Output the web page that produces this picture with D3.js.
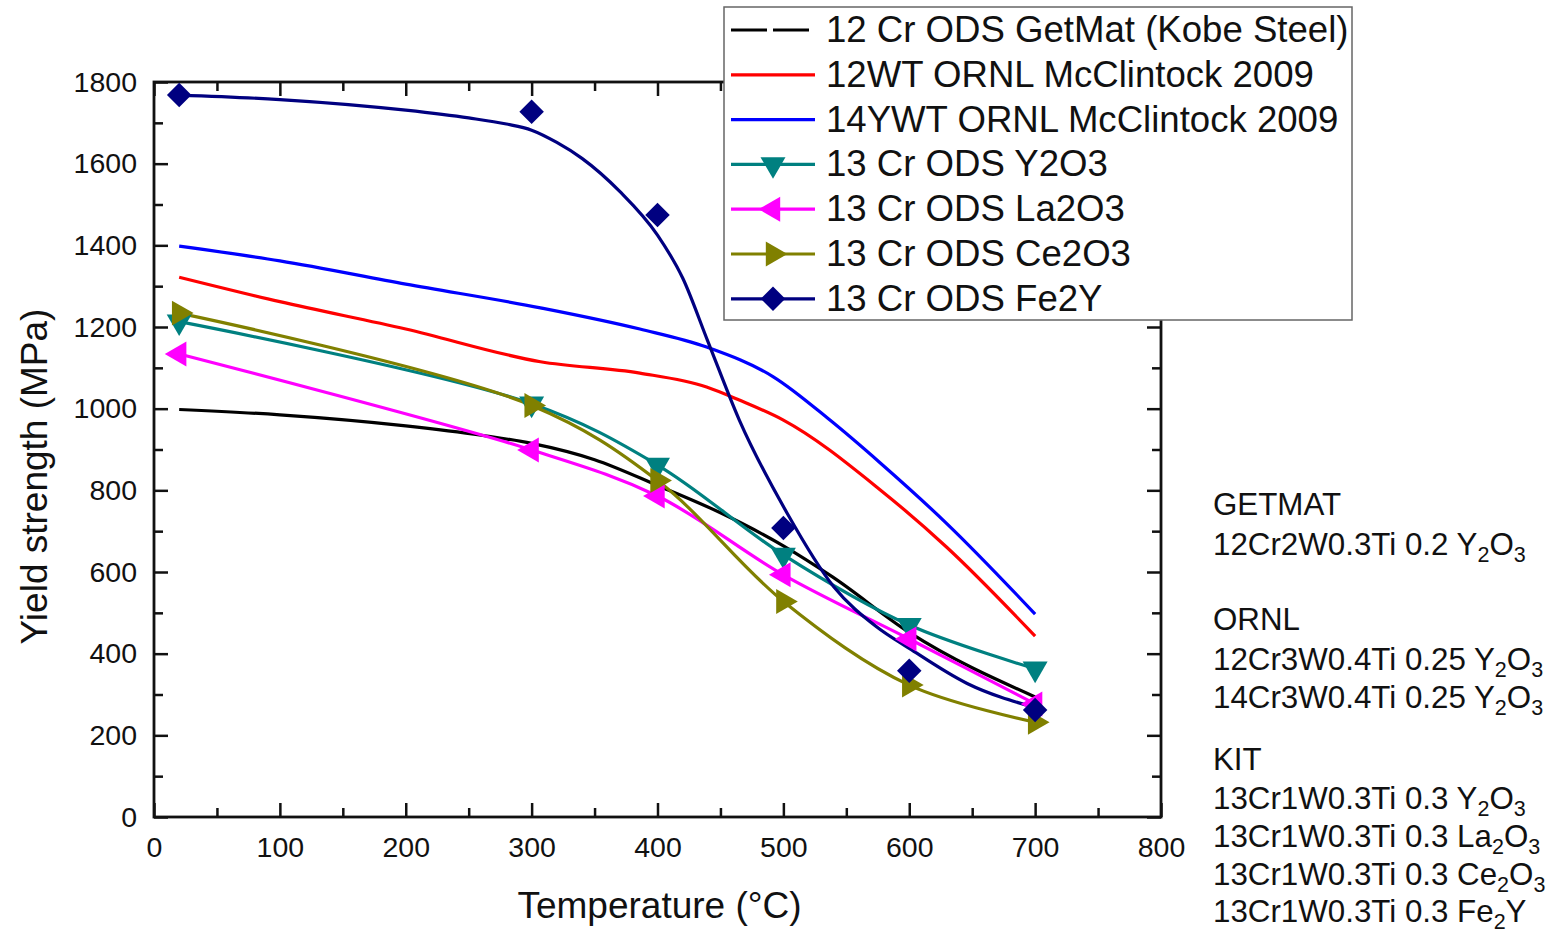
<!DOCTYPE html>
<html>
<head>
<meta charset="utf-8">
<script src="https://cdn.jsdelivr.net/npm/d3@7"></script>
<style>
  html, body { margin: 0; padding: 0; background: #fff; }
  svg { display: block; font-family: "Liberation Sans", Arial, Helvetica, sans-serif; }
</style>
</head>
<body>
<svg id="chart" width="1556" height="933"></svg>
<script>
// ---------------- data ----------------
const xTicks = [0, 100, 200, 300, 400, 500, 600, 700, 800];
const yTicks = [0, 200, 400, 600, 800, 1000, 1200, 1400, 1600, 1800];
const temps = [20, 300, 400, 500, 600, 700];

// fitted curves (no markers)
const getmatCurve = [[20, 998], [100, 985], [200, 958], [260, 935], [300, 915], [350, 875], [400, 812], [450, 745], [500, 664], [539, 588], [600, 452], [700, 294]];
const ornl12Curve = [[20, 1322], [100, 1262], [200, 1195], [307, 1115], [386, 1087], [439, 1053], [465, 1021], [500, 972], [577, 801], [630, 660], [700, 443]];
const ornl14Curve = [[20, 1398], [100, 1362], [200, 1305], [307, 1247], [386, 1195], [439, 1151], [492, 1078], [537, 972], [577, 867], [630, 718], [700, 497]];

// measured series with markers
const y2o3 = [1213, 1012, 862, 642, 470, 363];
const la2o3 = [1134, 899, 786, 593, 436, 277];
const ce2o3 = [1234, 1008, 824, 528, 323, 232];
const fe2y = [1768, 1727, 1474, 708, 358, 262];
const fe2yCurve = [[20, 1768], [100, 1757], [200, 1731], [250, 1712], [280, 1697], [300, 1682], [320, 1652], [340, 1613], [370, 1532], [400, 1425], [420, 1320], [440, 1165], [465, 972], [503, 744], [540, 564], [574, 466], [600, 413], [646, 327], [700, 268]];

const legendLabels = [
  "12 Cr ODS GetMat (Kobe Steel)",
  "12WT ORNL McClintock 2009",
  "14YWT ORNL McClintock 2009",
  "13 Cr ODS Y2O3",
  "13 Cr ODS La2O3",
  "13 Cr ODS Ce2O3",
  "13 Cr ODS Fe2Y"
];
const seriesColors = ["#000000", "#ff0000", "#0000ff", "#008080", "#ff00ff", "#808000", "#000080"];
const seriesMarkers = [null, null, null, "down", "left", "right", "diamond"];

// right-hand annotation: [text parts], part = [string, isSubscript]
const noteLines = [
  [["GETMAT", 0]],
  [["12Cr2W0.3Ti 0.2 Y", 0], ["2", 1], ["O", 0], ["3", 1]],
  null,
  [["ORNL", 0]],
  [["12Cr3W0.4Ti 0.25 Y", 0], ["2", 1], ["O", 0], ["3", 1]],
  [["14Cr3W0.4Ti 0.25 Y", 0], ["2", 1], ["O", 0], ["3", 1]],
  null,
  [["KIT", 0]],
  [["13Cr1W0.3Ti 0.3 Y", 0], ["2", 1], ["O", 0], ["3", 1]],
  [["13Cr1W0.3Ti 0.3 La", 0], ["2", 1], ["O", 0], ["3", 1]],
  [["13Cr1W0.3Ti 0.3 Ce", 0], ["2", 1], ["O", 0], ["3", 1]],
  [["13Cr1W0.3Ti 0.3 Fe", 0], ["2", 1], ["Y", 0]]
];

// ---------------- layout ----------------
const svg = d3.select("#chart");
const X0 = 154, X1 = 1161, Y0 = 817, Y1 = 82;
const x = d3.scaleLinear().domain([0, 800]).range([X0, X1]);
const y = d3.scaleLinear().domain([0, 1800]).range([Y0, Y1]);

const axisColor = "#111";
const tickFont = 28.5;

const xMinor = d3.range(50, 800, 100);
const yMinor = d3.range(100, 1800, 200);

function styleAxis(g) {
  g.selectAll(".domain").remove();
  g.selectAll(".tick line").attr("stroke", axisColor).attr("stroke-width", 2.5);
  g.selectAll("text").attr("font-size", tickFont).attr("fill", "#111")
    .attr("font-family", "'Liberation Sans', Arial, sans-serif");
}

// bottom axis
svg.append("g").attr("transform", `translate(0,${Y0})`)
  .call(d3.axisBottom(x).tickValues(xTicks).tickSize(-14).tickPadding(20).tickFormat(d3.format("d")))
  .call(styleAxis);
svg.append("g").attr("transform", `translate(0,${Y0})`)
  .call(d3.axisBottom(x).tickValues(xMinor).tickSize(-9).tickFormat(""))
  .call(styleAxis);
// top axis
svg.append("g").attr("transform", `translate(0,${Y1})`)
  .call(d3.axisTop(x).tickValues(xTicks).tickSize(-14).tickFormat(""))
  .call(styleAxis);
svg.append("g").attr("transform", `translate(0,${Y1})`)
  .call(d3.axisTop(x).tickValues(xMinor).tickSize(-9).tickFormat(""))
  .call(styleAxis);
// left axis
svg.append("g").attr("transform", `translate(${X0},0)`)
  .call(d3.axisLeft(y).tickValues(yTicks).tickSize(-14).tickPadding(17).tickFormat(d3.format("d")))
  .call(styleAxis);
svg.append("g").attr("transform", `translate(${X0},0)`)
  .call(d3.axisLeft(y).tickValues(yMinor).tickSize(-9).tickFormat(""))
  .call(styleAxis);
// right axis
svg.append("g").attr("transform", `translate(${X1},0)`)
  .call(d3.axisRight(y).tickValues(yTicks).tickSize(-14).tickFormat(""))
  .call(styleAxis);
svg.append("g").attr("transform", `translate(${X1},0)`)
  .call(d3.axisRight(y).tickValues(yMinor).tickSize(-9).tickFormat(""))
  .call(styleAxis);

// frame
svg.append("rect").attr("x", X0).attr("y", Y1).attr("width", X1 - X0).attr("height", Y0 - Y1)
  .attr("fill", "none").attr("stroke", axisColor).attr("stroke-width", 2.8);

// axis titles
svg.append("text").attr("x", (X0 + X1) / 2 + 2).attr("y", 918)
  .attr("text-anchor", "middle").attr("font-size", 37).attr("fill", "#111")
  .text("Temperature (°C)");
svg.append("text").attr("transform", `translate(47,${(Y0 + Y1) / 2 + 27}) rotate(-90)`)
  .attr("text-anchor", "middle").attr("font-size", 37).attr("fill", "#111")
  .text("Yield strength (MPa)");

// ---------------- series ----------------
const fitLine = d3.line().x(d => x(d[0])).y(d => y(d[1])).curve(d3.curveMonotoneX);
const dataLine = d3.line().x(d => x(d[0])).y(d => y(d[1])).curve(d3.curveCatmullRom.alpha(0.5));
const plot = svg.append("g");

const curves = [
  { pts: getmatCurve, color: seriesColors[0], gen: fitLine },
  { pts: ornl12Curve, color: seriesColors[1], gen: fitLine },
  { pts: ornl14Curve, color: seriesColors[2], gen: fitLine },
  { pts: temps.map((t, i) => [t, y2o3[i]]), color: seriesColors[3], gen: dataLine },
  { pts: temps.map((t, i) => [t, la2o3[i]]), color: seriesColors[4], gen: dataLine },
  { pts: temps.map((t, i) => [t, ce2o3[i]]), color: seriesColors[5], gen: dataLine },
  { pts: fe2yCurve, color: seriesColors[6], gen: fitLine }
];
curves.forEach(c => {
  plot.append("path").attr("d", c.gen(c.pts)).attr("fill", "none")
    .attr("stroke", c.color).attr("stroke-width", 3.2).attr("stroke-linejoin", "round");
});

function markerPath(kind) {
  if (kind === "diamond") return d3.symbol().type(d3.symbolSquare).size(300)();
  return d3.symbol().type(d3.symbolTriangle).size(270)();
}
function markerRotate(kind) {
  return { down: 180, left: -90, right: 90, diamond: 45 }[kind];
}
const markerSeries = [
  { vals: y2o3, kind: "down", color: seriesColors[3] },
  { vals: la2o3, kind: "left", color: seriesColors[4] },
  { vals: ce2o3, kind: "right", color: seriesColors[5] },
  { vals: fe2y, kind: "diamond", color: seriesColors[6] }
];
markerSeries.forEach(s => {
  plot.selectAll(null).data(temps.map((t, i) => [t, s.vals[i]])).enter()
    .append("path").attr("d", markerPath(s.kind))
    .attr("transform", d => `translate(${x(d[0])},${y(d[1])}) rotate(${markerRotate(s.kind)})`)
    .attr("fill", s.color);
});

// ---------------- legend ----------------
const lg = svg.append("g");
lg.append("rect").attr("x", 724).attr("y", 7).attr("width", 628).attr("height", 313)
  .attr("fill", "#fff").attr("stroke", "#666").attr("stroke-width", 1.5);
legendLabels.forEach((lab, i) => {
  const cy = 30 + i * 44.8;
  const ln = lg.append("line").attr("x1", 731).attr("x2", 815).attr("y1", cy).attr("y2", cy)
    .attr("stroke", seriesColors[i]).attr("stroke-width", 3.2);
  if (i === 0) ln.attr("stroke-dasharray", "36,6");
  if (seriesMarkers[i]) {
    lg.append("path").attr("d", markerPath(seriesMarkers[i]))
      .attr("transform", `translate(773,${cy}) rotate(${markerRotate(seriesMarkers[i])})`)
      .attr("fill", seriesColors[i]);
  }
  lg.append("text").attr("x", 826).attr("y", cy + 12).attr("font-size", 36.6).attr("fill", "#111")
    .text(lab);
});

// ---------------- right-hand notes ----------------
const notes = svg.append("g");
const baselines = [515, 555, null, 630, 670, 708, null, 770, 809, 847, 885, 922];
noteLines.forEach((parts, i) => {
  if (!parts) return;
  const t = notes.append("text").attr("x", 1213).attr("y", baselines[i])
    .attr("font-size", 31.3).attr("fill", "#111");
  parts.forEach((p, j) => {
    const prev = j > 0 ? parts[j - 1][1] : 0;
    const ts = t.append("tspan").text(p[0]);
    if (p[1]) ts.attr("font-size", 21.5);
    ts.attr("dy", p[1] && !prev ? 7 : (!p[1] && prev ? -7 : 0));
  });
});
</script>
</body>
</html>
